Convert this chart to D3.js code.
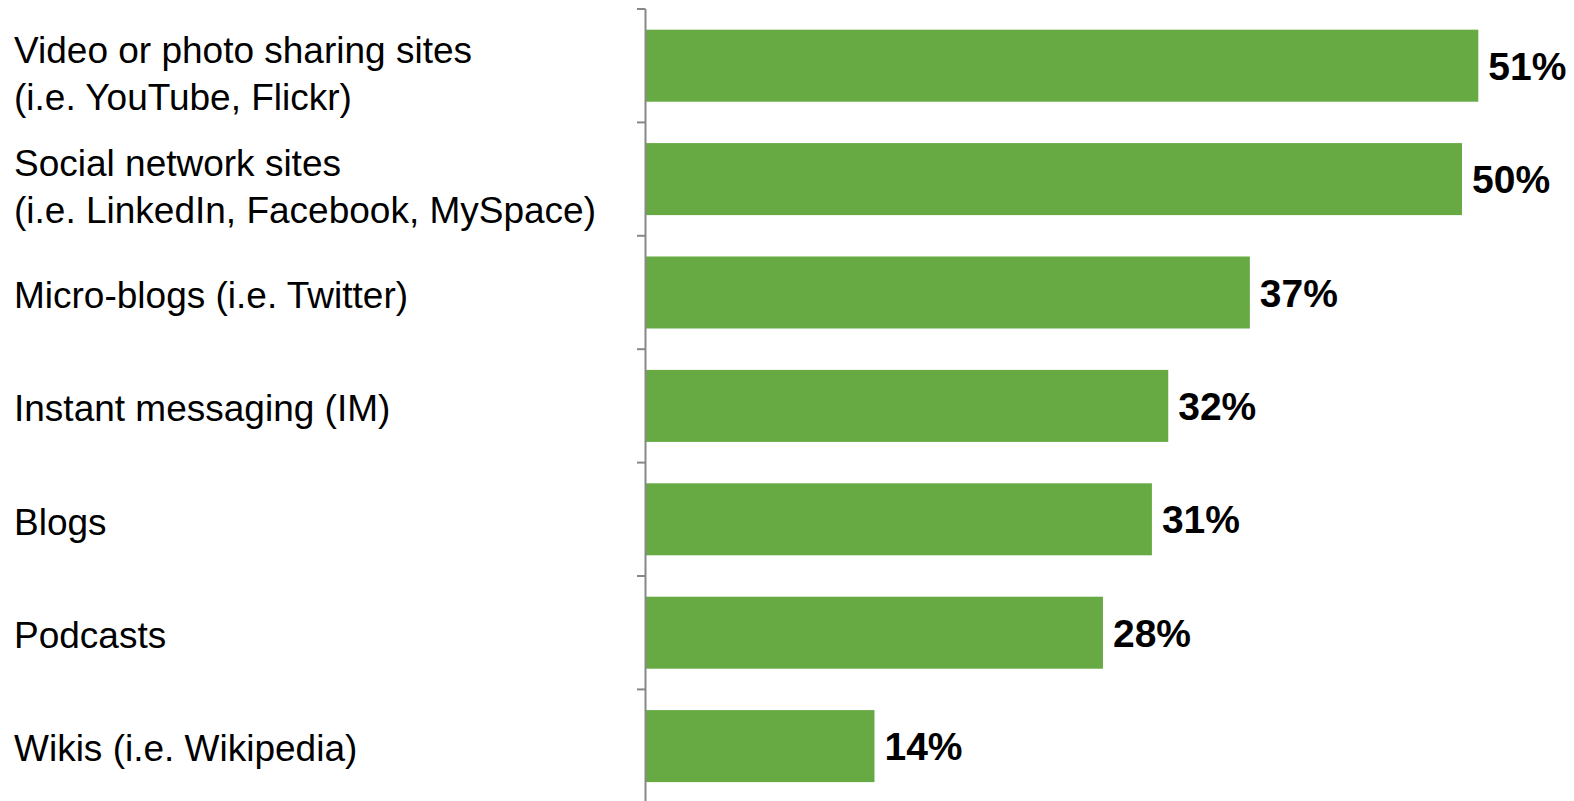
<!DOCTYPE html>
<html><head><meta charset="utf-8">
<script src="https://cdn.jsdelivr.net/npm/d3@7"></script>
<style>html,body{margin:0;padding:0;background:#fff;}svg{display:block;}</style>
</head><body>
<svg id="c" width="1574" height="801"></svg>
<script>
const categories = ["Video or photo sharing sites|(i.e. YouTube, Flickr)",
  "Social network sites|(i.e. LinkedIn, Facebook, MySpace)",
  "Micro-blogs (i.e. Twitter)",
  "Instant messaging (IM)",
  "Blogs",
  "Podcasts",
  "Wikis (i.e. Wikipedia)"];
const values = [51, 50, 37, 32, 31, 28, 14];

const svg = d3.select("#c");
const x0 = 646, yTop = 9, step = 113.4, pad = 0.365;
const x = d3.scaleLinear().domain([0, 51]).range([x0, x0 + 16.32 * 51]);
const y = d3.scaleBand().domain(categories).range([yTop, yTop + step * categories.length])
  .paddingInner(pad).paddingOuter(pad / 2);

// bars
svg.selectAll("rect.bar").data(values).join("rect")
  .attr("x", x(0)).attr("y", (d, i) => y(categories[i]))
  .attr("width", d => x(d) - x(0)).attr("height", y.bandwidth())
  .attr("fill", "#67AA44");

// axis
svg.append("line").attr("x1", x0 - 0.5).attr("x2", x0 - 0.5).attr("y1", yTop).attr("y2", 801)
  .attr("stroke", "#888").attr("stroke-width", 2);
svg.selectAll("line.tick").data(categories).join("line")
  .attr("x1", x0 - 9).attr("x2", x0 - 0.5)
  .attr("y1", d => y(d) - y.step() * pad / 2).attr("y2", d => y(d) - y.step() * pad / 2)
  .attr("stroke", "#888").attr("stroke-width", 2);

// value labels
svg.selectAll("text.val").data(values).join("text")
  .attr("x", d => x(d) + 10).attr("y", (d, i) => y(categories[i]) + y.bandwidth() / 2)
  .attr("dy", "0.36em")
  .attr("font-family", "'Liberation Sans', Arial, sans-serif").attr("font-weight", "bold")
  .attr("font-size", 39).attr("fill", "#000")
  .text(d => d + "%");

// category labels
categories.forEach(c => {
  const lines = c.split("|");
  const cy = y(c) + y.bandwidth() / 2 + (lines.length > 1 ? 7 : 2);
  const lh = 47;
  const t = svg.append("text").attr("font-family", "'Liberation Sans', Arial, sans-serif")
    .attr("font-size", 37).attr("fill", "#000");
  lines.forEach((l, j) => {
    t.append("tspan").attr("x", 14)
      .attr("y", cy + (j - (lines.length - 1) / 2) * lh).attr("dy", "0.36em").text(l);
  });
});
</script>
</body></html>
